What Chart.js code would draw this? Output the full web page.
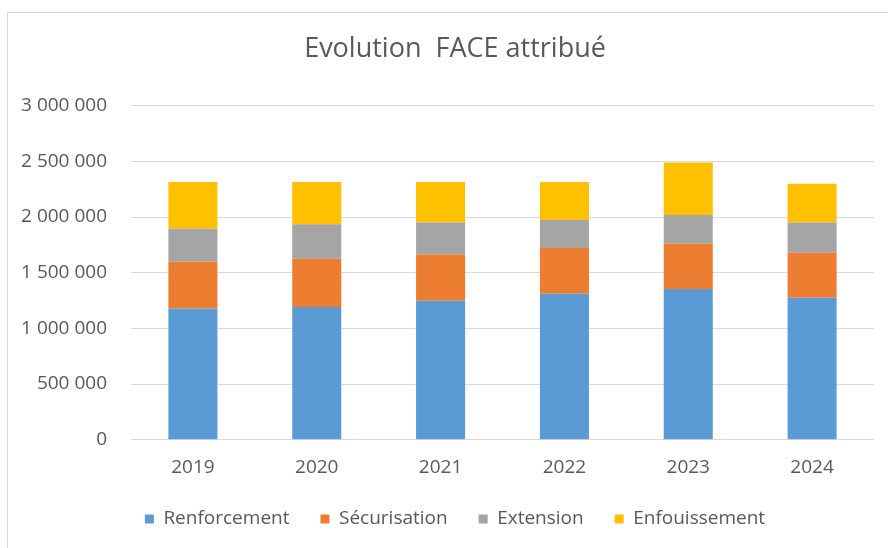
<!DOCTYPE html>
<html>
<head>
<meta charset="utf-8">
<script src="https://cdn.jsdelivr.net/npm/chart.js@4/dist/chart.umd.min.js"></script>
<style>
  html, body { margin: 0; padding: 0; background: #ffffff; }
  #wrap { position: relative; width: 888px; height: 548px; overflow: hidden; background: #ffffff; }
  #frame { position: absolute; left: 7px; top: 12px; width: 1000px; height: 1000px; border: 1px solid #d9d9d9; box-sizing: border-box; }
  #c { position: absolute; left: 0; top: 0; }
</style>
</head>
<body>
<div id="wrap">
  <div id="frame"></div>
  <canvas id="c" width="888" height="548"></canvas>
</div>
<script>
const titleText = 'Evolution  FACE attribué';
const years = ['2019', '2020', '2021', '2022', '2023', '2024'];
const renforcement = [1178000, 1193000, 1247000, 1312000, 1354000, 1276000];
const securisation = [420000, 432000, 417000, 409000, 405000, 403000];
const extension = [296000, 311000, 286000, 253000, 260000, 271000];
const enfouissement = [420000, 378000, 364000, 340000, 471000, 349000];
const yTicks = [0, 500000, 1000000, 1500000, 2000000, 2500000, 3000000];

const FONT = "'Open Sans', 'DejaVu Sans', sans-serif";
const TXT = '#595959';
const fmt = v => String(v).replace(/\B(?=(\d{3})+(?!\d))/g, ' ');
const noClip = s => { s._computeLabelArea = () => undefined; };

new Chart(document.getElementById('c'), {
  type: 'bar',
  data: {
    labels: years,
    datasets: [
      { label: 'Renforcement', data: renforcement, backgroundColor: '#5B9BD5' },
      { label: 'Sécurisation', data: securisation, backgroundColor: '#ED7D31' },
      { label: 'Extension', data: extension, backgroundColor: '#A5A5A5' },
      { label: 'Enfouissement', data: enfouissement, backgroundColor: '#FFC000' }
    ]
  },
  options: {
    responsive: false,
    animation: false,
    layout: { padding: { left: 36, right: 14, top: 0, bottom: 9.5 } },
    datasets: { bar: { categoryPercentage: 1, barPercentage: 0.396, borderWidth: 0 } },
    scales: {
      x: {
        stacked: true,
        grid: { display: false, drawTicks: false },
        border: { display: false },
        ticks: { color: TXT, font: { family: FONT, size: 19 }, padding: 16.9, maxRotation: 0 },
        afterFit: s => { s.height = 38.8; },
        afterUpdate: noClip
      },
      y: {
        stacked: true,
        min: 0,
        max: 3000000,
        afterBuildTicks: s => { s.ticks = yTicks.map(v => ({ value: v })); },
        grid: { color: '#d9d9d9', lineWidth: 1, drawTicks: false },
        border: { display: false },
        ticks: { color: TXT, font: { family: FONT, size: 19 }, padding: 24, callback: v => fmt(v) },
        afterFit: s => { s.width = 95; },
        afterUpdate: noClip
      }
    },
    plugins: {
      title: {
        display: true,
        text: titleText,
        color: TXT,
        font: { family: FONT, size: 27, weight: 'normal' },
        padding: { top: 33.5, bottom: 39.8 }
      },
      legend: {
        position: 'bottom',
        labels: {
          color: TXT,
          font: { family: FONT, size: 19 },
          boxWidth: 9,
          boxHeight: 9,
          padding: 31
        }
      },
      tooltip: { enabled: false }
    }
  }
});
</script>
</body>
</html>
